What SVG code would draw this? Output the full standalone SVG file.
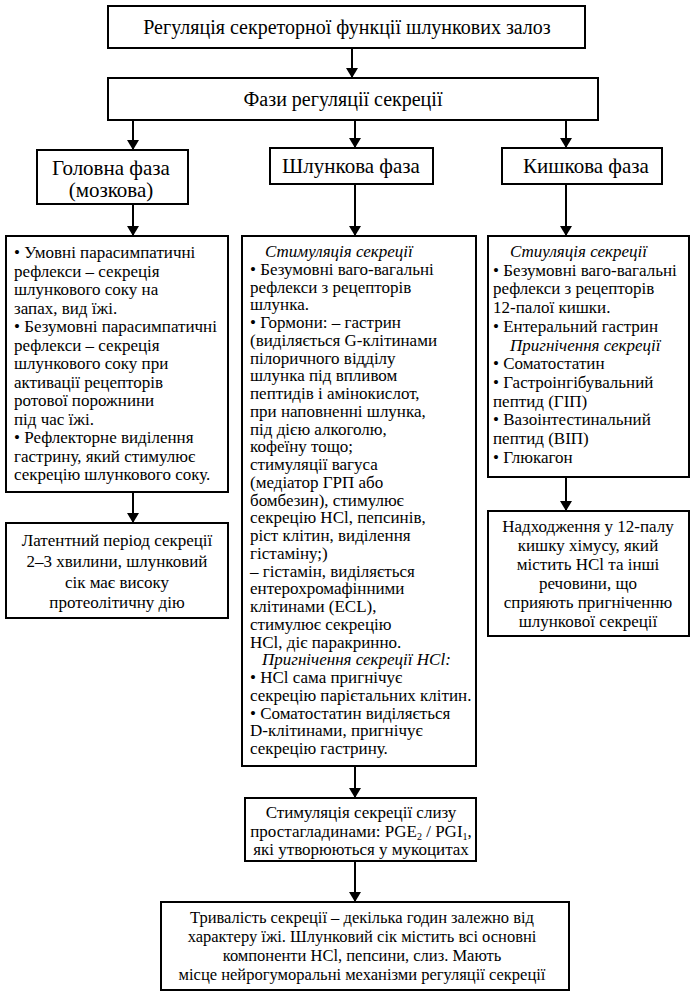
<svg xmlns="http://www.w3.org/2000/svg" width="700" height="1003" viewBox="0 0 700 1003">
<defs>
<marker id="ah" markerWidth="10" markerHeight="12" refX="10" refY="6" orient="auto" markerUnits="userSpaceOnUse">
<path d="M0,0 L10,6 L0,12 Z" fill="#000"/>
</marker>
<style>
.box{fill:#fff;stroke:#000;stroke-width:2}
.t{font-family:"Liberation Serif","Times New Roman",serif;fill:#000}
.h1{font-size:20px}
.h2{font-size:21px}
.b{font-size:17px}
.s{font-size:16.5px}
.c{text-anchor:middle}
.i{font-style:italic}
.con line{stroke:#000;stroke-width:2;marker-end:url(#ah)}
</style>
</defs>
<rect width="700" height="1003" fill="#fff"/>
<g class="con">
<line x1="352" y1="48" x2="352" y2="78"/>
<line x1="133" y1="120" x2="133" y2="150"/>
<line x1="355" y1="120" x2="355" y2="148"/>
<line x1="566" y1="120" x2="566" y2="148"/>
<line x1="133" y1="204" x2="133" y2="236"/>
<line x1="355" y1="184" x2="355" y2="236"/>
<line x1="566" y1="184" x2="566" y2="236"/>
<line x1="133" y1="492" x2="133" y2="523"/>
<line x1="566" y1="477" x2="566" y2="511"/>
<line x1="355" y1="766" x2="355" y2="798"/>
<line x1="355" y1="861" x2="355" y2="902"/>
</g>
<g id="n-title">
<rect class="box" x="108" y="6" width="477" height="42"/>
<text class="t h1 c" x="347" y="34">Регуляція секреторної функції шлункових залоз</text>
</g>
<g id="n-phases">
<rect class="box" x="108" y="78" width="490" height="42"/>
<text class="t h1 c" x="343" y="106">Фази регуляції секреції</text>
</g>
<g id="n-head">
<rect class="box" x="37" y="150" width="151" height="54"/>
<text class="t h2 c" x="111" y="175">Головна фаза</text>
<text class="t h2 c" x="111" y="197">(мозкова)</text>
</g>
<g id="n-gastric">
<rect class="box" x="270" y="148" width="163" height="36"/>
<text class="t h2 c" x="351" y="173">Шлункова фаза</text>
</g>
<g id="n-intest">
<rect class="box" x="502" y="148" width="160" height="36"/>
<text class="t h2 c" x="586" y="173">Кишкова фаза</text>
</g>
<g id="n-head-det">
<rect class="box" x="6" y="236" width="222" height="256"/>
<text class="t b" x="14" y="258">• Умовні парасимпатичні</text>
<text class="t b" x="14" y="276.5">рефлекси – секреція</text>
<text class="t b" x="14" y="295">шлункового соку на</text>
<text class="t b" x="14" y="313.5">запах, вид їжі.</text>
<text class="t b" x="14" y="332">• Безумовні парасимпатичні</text>
<text class="t b" x="14" y="350.5">рефлекси – секреція</text>
<text class="t b" x="14" y="369">шлункового соку при</text>
<text class="t b" x="14" y="387.5">активації рецепторів</text>
<text class="t b" x="14" y="406">ротової порожнини</text>
<text class="t b" x="14" y="424.5">під час їжі.</text>
<text class="t b" x="14" y="443">• Рефлекторне виділення</text>
<text class="t b" x="14" y="461.5">гастрину, який стимулює</text>
<text class="t b" x="14" y="480">секрецію шлункового соку.</text>
</g>
<g id="n-latent">
<rect class="box" x="6" y="523" width="222" height="95"/>
<text class="t b c" x="117" y="546">Латентний період секреції</text>
<text class="t b c" x="117" y="567">2–3 хвилини, шлунковий</text>
<text class="t b c" x="117" y="588">сік має високу</text>
<text class="t b c" x="117" y="608">протеолітичну дію</text>
</g>
<g id="n-gastric-det">
<rect class="box" x="242" y="236" width="234" height="530"/>
<text class="t b i" x="265" y="257">Стимуляція секреції</text>
<text class="t b" x="250" y="274.75">• Безумовні ваго-вагальні</text>
<text class="t b" x="250" y="292.5">рефлекси з рецепторів</text>
<text class="t b" x="250" y="310.25">шлунка.</text>
<text class="t b" x="250" y="328">• Гормони: – гастрин</text>
<text class="t b" x="250" y="345.75">(виділяється G-клітинами</text>
<text class="t b" x="250" y="363.5">пілоричного відділу</text>
<text class="t b" x="250" y="381.25">шлунка під впливом</text>
<text class="t b" x="250" y="399">пептидів і амінокислот,</text>
<text class="t b" x="250" y="416.75">при наповненні шлунка,</text>
<text class="t b" x="250" y="434.5">під дією алкоголю,</text>
<text class="t b" x="250" y="452.25">кофеїну тощо;</text>
<text class="t b" x="250" y="470">стимуляції вагуса</text>
<text class="t b" x="250" y="487.75">(медіатор ГРП або</text>
<text class="t b" x="250" y="505.5">бомбезин), стимулює</text>
<text class="t b" x="250" y="523.25">секрецію HCl, пепсинів,</text>
<text class="t b" x="250" y="541">ріст клітин, виділення</text>
<text class="t b" x="250" y="558.75">гістаміну;)</text>
<text class="t b" x="250" y="576.5">– гістамін, виділяється</text>
<text class="t b" x="250" y="594.25">ентерохромафінними</text>
<text class="t b" x="250" y="612">клітинами (ECL),</text>
<text class="t b" x="250" y="629.75">стимулює секрецію</text>
<text class="t b" x="250" y="647.5">HCl, діє паракринно.</text>
<text class="t b i" x="262" y="665.25">Пригнічення секреції HCl:</text>
<text class="t b" x="250" y="683">• HCl  сама пригнічує</text>
<text class="t b" x="250" y="700.75">секрецію парієтальних клітин.</text>
<text class="t b" x="250" y="718.5">• Соматостатин  виділяється</text>
<text class="t b" x="250" y="736.25">D-клітинами, пригнічує</text>
<text class="t b" x="250" y="754">секрецію гастрину.</text>
</g>
<g id="n-intest-det">
<rect class="box" x="488" y="236" width="201" height="241"/>
<text class="t b i" x="510" y="257">Стиуляція секреції</text>
<text class="t b" x="493" y="275.7">• Безумовні ваго-вагальні</text>
<text class="t b" x="493" y="294.4">рефлекси з рецепторів</text>
<text class="t b" x="493" y="313.1">12-палої кишки.</text>
<text class="t b" x="493" y="331.8">• Ентеральний гастрин</text>
<text class="t b i" x="510" y="350.5">Пригнічення секреції</text>
<text class="t b" x="493" y="369.2">• Соматостатин</text>
<text class="t b" x="493" y="387.9">• Гастроінгібувальний</text>
<text class="t b" x="493" y="406.6">пептид (ГІП)</text>
<text class="t b" x="493" y="425.3">• Вазоінтестинальний</text>
<text class="t b" x="493" y="444">пептид (ВІП)</text>
<text class="t b" x="493" y="462.7">• Глюкагон</text>
</g>
<g id="n-chyme">
<rect class="box" x="488" y="511" width="201" height="125"/>
<text class="t b c" x="588" y="532">Надходження у 12-палу</text>
<text class="t b c" x="588" y="551">кишку хімусу, який</text>
<text class="t b c" x="588" y="570">містить HCl та інші</text>
<text class="t b c" x="588" y="589">речовини, що</text>
<text class="t b c" x="588" y="608">сприяють пригніченню</text>
<text class="t b c" x="588" y="627">шлункової секреції</text>
</g>
<g id="n-mucus">
<rect class="box" x="245" y="798" width="231" height="63"/>
<text class="t b c" x="361" y="818">Стимуляція секреції слизу</text>
<text class="t b c" x="361" y="837">простагладинами: PGE<tspan font-size="10" dy="3">2</tspan><tspan dy="-3"> / PGI</tspan><tspan font-size="10" dy="3">1</tspan><tspan dy="-3">,</tspan></text>
<text class="t b c" x="361" y="855">які утворюються у мукоцитах</text>
</g>
<g id="n-final">
<rect class="box" x="161" y="902" width="408" height="88"/>
<text class="t s c" x="362" y="923">Тривалість секреції – декілька годин залежно від</text>
<text class="t s c" x="362" y="942">характеру їжі. Шлунковий сік містить всі основні</text>
<text class="t s c" x="362" y="961">компоненти  HCl, пепсини, слиз. Мають</text>
<text class="t s c" x="362" y="980">місце нейрогуморальні механізми регуляції секреції</text>
</g>
</svg>
